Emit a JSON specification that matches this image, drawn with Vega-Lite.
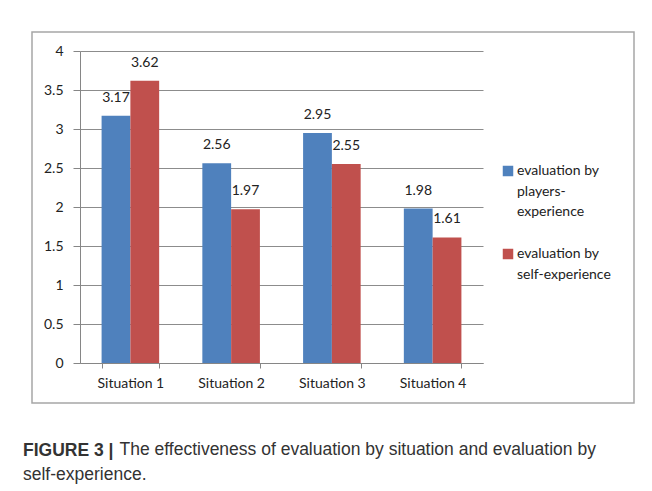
{
  "$schema": "https://vega.github.io/schema/vega-lite/v6.json",
  "width": 602,
  "height": 371,
  "autosize": {"type": "none"},
  "padding": {"left": 32, "top": 32, "right": 18, "bottom": 88},
  "background": "white",
  "config": {
    "view": {"stroke": "#a6a6a6", "strokeWidth": 1.5},
    "font": "Lato",
    "style": {"guide-label": {"lineHeight": 20.5}}
  },
  "title": {
    "text": "FIGURE 3 |",
    "subtitle": "self-experience.",
    "orient": "bottom",
    "anchor": "start",
    "frame": "group",
    "dx": -9,
    "offset": -16,
    "font": "Liberation Sans",
    "fontSize": 17.5,
    "fontWeight": "bold",
    "color": "#333333",
    "subtitleFont": "Liberation Sans",
    "subtitleFontSize": 17.5,
    "subtitleColor": "#333333",
    "subtitlePadding": 7
  },
  "data": {
    "values": [
      {"situation": "Situation 1", "series": "evaluation by players-experience", "value": 3.17},
      {"situation": "Situation 1", "series": "evaluation by self-experience", "value": 3.62},
      {"situation": "Situation 2", "series": "evaluation by players-experience", "value": 2.56},
      {"situation": "Situation 2", "series": "evaluation by self-experience", "value": 1.97},
      {"situation": "Situation 3", "series": "evaluation by players-experience", "value": 2.95},
      {"situation": "Situation 3", "series": "evaluation by self-experience", "value": 2.55},
      {"situation": "Situation 4", "series": "evaluation by players-experience", "value": 1.98},
      {"situation": "Situation 4", "series": "evaluation by self-experience", "value": 1.61}
    ]
  },
  "encoding": {
    "x": {
      "field": "situation",
      "type": "nominal",
      "sort": null,
      "scale": {"range": [48, 451], "paddingInner": 0.4286, "paddingOuter": 0.2143},
      "axis": {
        "offset": -40,
        "tickBand": "extent",
        "tickSize": 5,
        "labelPadding": 8,
        "labelAngle": 0,
        "labelFont": "Lato",
        "labelFontSize": 14,
        "labelColor": "#222222",
        "domainColor": "#868686",
        "tickColor": "#868686",
        "grid": false,
        "title": "The effectiveness of evaluation by situation and evaluation by",
        "titleX": 87,
        "titleY": 86,
        "titleAlign": "left",
        "titleBaseline": "middle",
        "titleFont": "Liberation Sans",
        "titleFontSize": 17.5,
        "titleFontWeight": "normal",
        "titleColor": "#333333"
      }
    },
    "xOffset": {
      "field": "series",
      "type": "nominal",
      "sort": ["evaluation by players-experience", "evaluation by self-experience"]
    },
    "y": {
      "field": "value",
      "type": "quantitative",
      "scale": {"domain": [0, 4], "range": [331, 19]},
      "axis": {
        "values": [0, 0.5, 1, 1.5, 2, 2.5, 3, 3.5, 4],
        "format": "~g",
        "offset": -48,
        "tickSize": 7,
        "labelPadding": 10,
        "labelFont": "Lato",
        "labelFontSize": 14,
        "labelColor": "#222222",
        "domainColor": "#868686",
        "tickColor": "#868686",
        "grid": true,
        "gridColor": "#8c8c8c",
        "title": null
      }
    }
  },
  "layer": [
    {
      "mark": {"type": "bar"},
      "encoding": {
        "color": {
          "field": "series",
          "type": "nominal",
          "scale": {
            "domain": ["evaluation by players-experience", "evaluation by self-experience"],
            "range": ["#4f81bd", "#c0504d"]
          },
          "legend": {
            "orient": "none",
            "legendX": 469,
            "legendY": 132,
            "title": null,
            "symbolType": "square",
            "symbolSize": 110,
            "symbolStrokeWidth": 0,
            "labelFont": "Lato",
            "labelFontSize": 14,
            "labelColor": "#222222",
            "labelLimit": 300,
            "labelOffset": 2,
            "labelBaseline": "middle",
            "rowPadding": 28,
            "labelExpr": "datum.label == 'evaluation by players-experience' ? ['evaluation by', 'players-', 'experience'] : ['evaluation by', 'self-experience']"
          }
        }
      }
    },
    {
      "mark": {"type": "text", "dy": -18, "baseline": "middle", "font": "Lato", "fontSize": 14, "color": "#222222"},
      "encoding": {
        "text": {"field": "value", "type": "quantitative", "format": ".2f"}
      }
    }
  ]
}
